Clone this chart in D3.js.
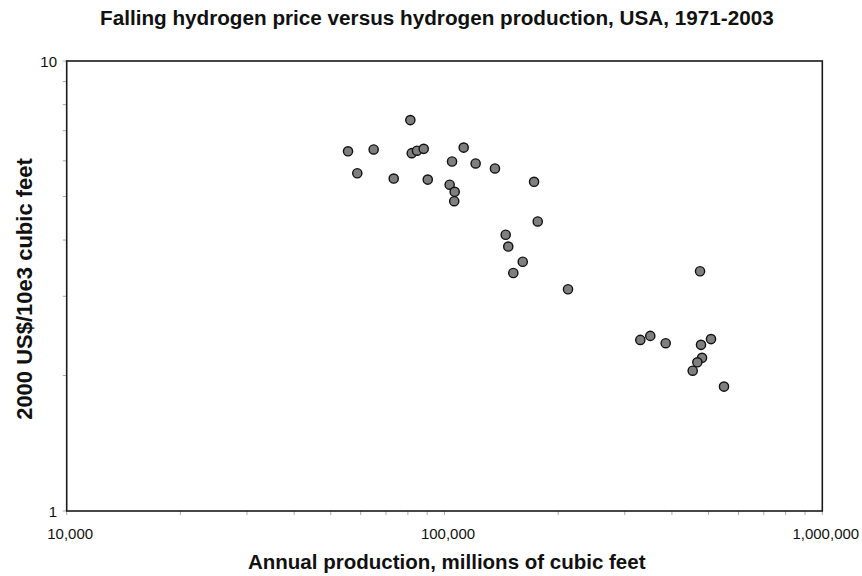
<!DOCTYPE html>
<html><head><meta charset="utf-8">
<script src="https://cdn.jsdelivr.net/npm/d3@7"></script>
<style>body{margin:0;background:#fff}svg{display:block}text{font-family:"Liberation Sans",Arial,sans-serif}</style>
</head><body><svg id="c" width="862" height="576"></svg>
<script>
const production = [55550,58770,64940,73380,81200,81900,84570,88100,90300,104700,103200,106400,106100,112400,120900,136000,172600,176500,145200,147500,161100,152100,212300,329800,350500,385000,474700,477500,507500,480500,466900,453900,549300];
const price = [6.30,5.63,6.36,5.48,7.39,6.24,6.32,6.38,5.45,5.98,5.31,5.12,4.88,6.42,5.92,5.77,5.39,4.40,4.11,3.87,3.58,3.38,3.11,2.40,2.45,2.36,3.41,2.34,2.41,2.19,2.14,2.05,1.89];
const xTickValues = [10000,100000,1000000];
const xTickLabels = ["10,000","100,000","1,000,000"];
const yTickValues = [1,10];
const yTickLabels = ["1","10"];
const title = "Falling hydrogen price versus hydrogen production, USA, 1971-2003";
const xTitle = "Annual production, millions of cubic feet";
const yTitle = "2000 US$/10e3 cubic feet";

const svg = d3.select("#c");
const L=66.7,R=822.3,T=61,B=511;
const x = d3.scaleLog().domain([10000,1000000]).range([L,R]);
const y = d3.scaleLog().domain([1,10]).range([B,T]);

// minor ticks
const xMinor=[10000];for(let d=10000;d<1000000;d*=10)for(let k=2;k<=10;k++)xMinor.push(d*k);
svg.append("g").selectAll("line").data(xMinor).join("line")
 .attr("x1",d=>x(d)).attr("x2",d=>x(d)).attr("y1",B).attr("y2",B+4)
 .attr("stroke","#aaa").attr("stroke-width",1);
const yMinor=[1];for(let k=2;k<=10;k++)yMinor.push(k);
svg.append("g").selectAll("line").data(yMinor).join("line")
 .attr("x1",L-4).attr("x2",L).attr("y1",d=>y(d)).attr("y2",d=>y(d))
 .attr("stroke","#aaa").attr("stroke-width",1);

// frame
svg.append("rect").attr("x",L).attr("y",T).attr("width",R-L).attr("height",B-T)
 .attr("fill","none").attr("stroke","#1a1a1a").attr("stroke-width",1.6);

// tick labels
svg.append("g").selectAll("text").data(xTickValues).join("text")
 .attr("x",d=>x(d)+3.5).attr("y",539).attr("text-anchor","middle")
 .attr("font-size",15).attr("fill","#111").text((d,i)=>xTickLabels[i]);
svg.append("g").selectAll("text").data(yTickValues).join("text")
 .attr("x",57).attr("y",d=>y(d)+5.7).attr("text-anchor","end")
 .attr("font-size",15).attr("fill","#111").text((d,i)=>yTickLabels[i]);

// points
svg.append("g").selectAll("circle").data(production).join("circle")
 .attr("cx",d=>x(d)).attr("cy",(d,i)=>y(price[i])).attr("r",4.6)
 .attr("fill","#7f7f7f").attr("stroke","#111").attr("stroke-width",1.4);

// titles
svg.append("text").attr("x",100).attr("y",24.5).attr("text-anchor","start")
 .attr("font-size",20.7).attr("font-weight","bold").attr("fill","#111").text(title);
svg.append("text").attr("x",248).attr("y",569).attr("text-anchor","start")
 .attr("font-size",20.5).attr("font-weight","bold").attr("fill","#111").text(xTitle);
svg.append("text").attr("transform","translate(32,289) rotate(-90)").attr("text-anchor","middle")
 .attr("font-size",22).attr("font-weight","bold").attr("fill","#111").text(yTitle);
</script></body></html>
